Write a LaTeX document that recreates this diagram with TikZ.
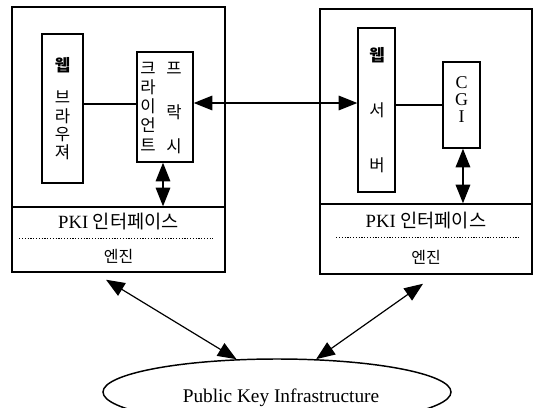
\documentclass[tikz,border=0pt]{standalone}
\usepackage{fontspec}
\setmainfont{Liberation Serif}
\newfontfamily\kr{Noto Sans CJK KR}
\usetikzlibrary{arrows.meta,shapes.geometric,calc}

\begin{document}
\begin{tikzpicture}[x=0.75pt,y=-0.75pt,
  >={Triangle[length=14pt,width=11pt]},
  box/.style={draw, line width=1.1pt, inner sep=0pt},
  conn/.style={line width=0.9pt},
  dbl/.style={<->, line width=0.9pt},
  dotline/.style={line width=0.6pt, dash pattern=on 0.9pt off 1.2pt},
  kchar/.style={inner sep=0pt, font=\kr\fontsize{12.5pt}{13.75pt}\selectfont, align=center},
  kbold/.style={kchar, font=\kr\bfseries\fontsize{12.5pt}{13.75pt}\selectfont},
  pkitxt/.style={inner sep=0pt, font=\fontsize{14pt}{16pt}\selectfont},
  engtxt/.style={inner sep=0pt, font=\kr\fontsize{12pt}{13pt}\selectfont},
  latin/.style={inner sep=0pt, align=center, font=\fontsize{13.5pt}{12.75pt}\selectfont}
]
\useasboundingbox (0,0) rectangle (538,407);

% ---- client side ----
\node[box, minimum width=159.75pt, minimum height=198.75pt] (clientsys) at (118.5,139.5) {};
\node[box, minimum width=159.75pt, minimum height=48.75pt] (pkiL) at (118.5,239.5) {};
\node[box, minimum width=30.75pt, minimum height=111.75pt] (browser) at (62.5,108.5) {};
\node[box, minimum width=42pt, minimum height=82.5pt] (proxy) at (165,107) {};

\node[kbold] (b1) at (62.5,65) {웹};
\node[kchar] (b2) at (62.5,125.5) {브\\라\\우\\져};
\node[kchar, font=\kr\fontsize{12.5pt}{14.4pt}\selectfont] (p1) at (148,106.5) {크\\라\\이\\언\\트};
\node[kchar] (p2) at (174,68) {프};
\node[kchar] (p3) at (174,112) {락};
\node[kchar] (p4) at (174,146) {시};

\node[pkitxt] (lpki) at (118.5,222) {PKI {\kr 인터페이스}};
\node[engtxt] (leng) at (118.5,256) {엔진};
\draw[dotline] ($(pkiL.west)+(8,-1.5)$) -- ($(pkiL.east)+(-13,-1.5)$);

% ---- server side ----
\node[box, minimum width=159pt, minimum height=198.75pt] (serversys) at (426,141.5) {};
\node[box, minimum width=159pt, minimum height=52.5pt] (pkiR) at (426,239) {};
\node[box, minimum width=27.75pt, minimum height=123pt] (server) at (376.5,110) {};
\node[box, minimum width=27.75pt, minimum height=64.5pt] (cgi) at (461.5,105) {};

\node[kbold] (s1) at (377,55) {웹};
\node[kchar] (s2) at (377,110) {서};
\node[kchar] (s3) at (377,165) {버};
\node[latin] (c1) at (461.5,100) {C\\G\\I};

\node[pkitxt] (rpki) at (426,221) {PKI {\kr 인터페이스}};
\node[engtxt] (reng) at (426,257) {엔진};
\draw[dotline] ($(pkiR.west)+(17,-2)$) -- ($(pkiR.east)+(-12,-2)$);

% ---- infrastructure ----
\node[draw, ellipse, line width=1.1pt, inner sep=0pt,
      minimum width=261pt, minimum height=49.5pt] (pki) at (277,392) {};
\node[inner sep=0pt, font=\fontsize{14.5pt}{16pt}\selectfont] (pkilabel)
  at ($(pki.center)+(4,6)$) {Public Key Infrastructure};

% ---- connectors ----
\draw[conn] ([yshift=3.4pt]browser.east) -- ([yshift=3.4pt]browser.east -| proxy.west);
\draw[dbl] ([yshift=3pt]proxy.east) -- ([yshift=3pt]proxy.east -| server.west);
\draw[conn] (cgi.west -| server.east) -- (cgi.west);
\draw[dbl] ([xshift=-1.5pt]proxy.south) -- ([xshift=-1.5pt]proxy.south |- pkiL.north);
\draw[dbl] ([xshift=1.1pt]cgi.south) -- ([xshift=1.1pt]cgi.south |- pkiR.north);
\draw[dbl] ($(clientsys.south)+(-12.5,7)$) -- (pki.141);
\draw[dbl] ($(serversys.south)+(-3,9)$) -- (pki.40);
\end{tikzpicture}
\end{document}
